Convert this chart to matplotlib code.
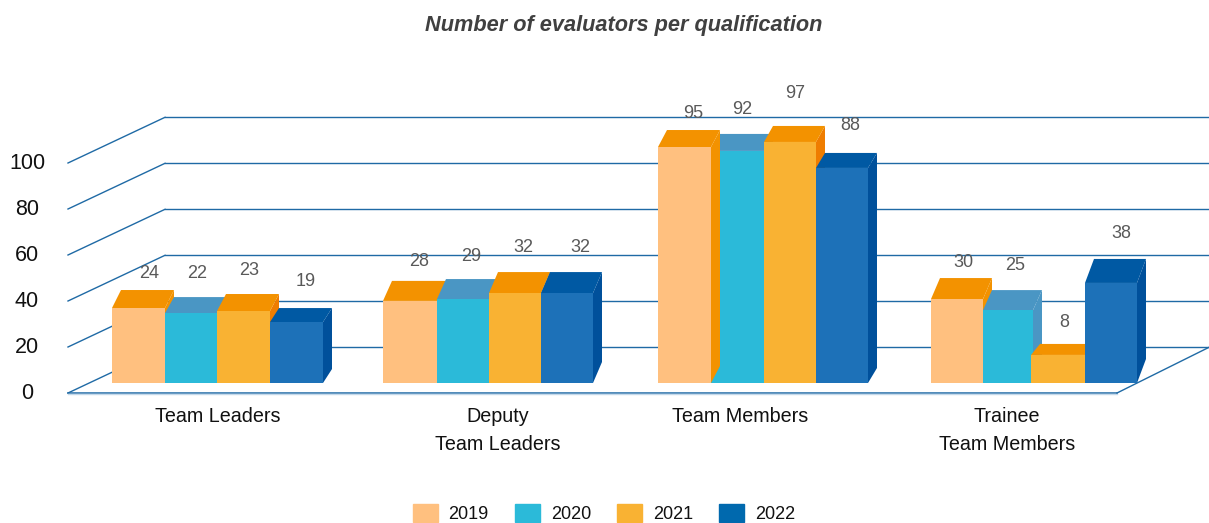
import matplotlib
matplotlib.use("Agg")
import matplotlib.pyplot as plt
from matplotlib.patches import Patch, Polygon

categories = ["Team Leaders", "Deputy\nTeam Leaders", "Team Members", "Trainee\nTeam Members"]
years = ["2019", "2020", "2021", "2022"]
y_ticks = [0, 20, 40, 60, 80, 100]

# printed labels
labels_2019 = [24, 28, 95, 30]
labels_2020 = [22, 29, 92, 25]
labels_2021 = [23, 32, 97, 8]
labels_2022 = [19, 32, 88, 38]

# bar heights as they read against the gridlines (not proportional to the labels)
heights_2019 = [32.6, 35.7, 102.6, 36.5]
heights_2020 = [30.4, 36.5, 100.9, 31.7]
heights_2021 = [31.3, 39.1, 104.8, 12.2]
heights_2022 = [26.5, 39.1, 93.5, 43.5]

labels = [labels_2019, labels_2020, labels_2021, labels_2022]
heights = [heights_2019, heights_2020, heights_2021, heights_2022]

front_colors = ["#FFC07F", "#2BBAD9", "#F9B233", "#1D71B8"]
top_colors = ["#F39200", "#4A96C4", "#F39200", "#0059A3"]
side_colors = ["#F39200", "#4A96C4", "#EF7D00", "#00509B"]
legend_colors = ["#FFC07F", "#2BBAD9", "#F9B233", "#0069AE"]
grid_color = "#1F6AA5"

# layout, in pixels of the 1209x523 picture
W, H = 1209, 523
px_unit = 2.3
zero_px = 393
floor_px = 383
base = (zero_px - floor_px) / px_unit
wall_dx = 97
wall_dy = 45.7 / px_unit
wall_left = 68
wall_right = 1117
edges = [[112, 165, 217, 270, 323],
         [383, 437, 489, 541, 593],
         [658, 711, 764, 816, 868],
         [931, 983, 1033, 1085, 1137]]
lefts = [[112, 165, 217, 270],
         [383, 437, 489, 541],
         [658, 711, 764, 816],
         [931, 983, 1031, 1085]]
depth_x = 9
depth_y = [[18, 16, 17, 14], [20, 20, 21, 21], [17, 17, 16, 15], [21, 20, 11, 24]]
draw_order = [[0, 1, 2, 3], [0, 1, 2, 3], [1, 0, 2, 3], [0, 1, 2, 3]]
label_dx = [[10.5, 6, 5.5, 9.5], [9, 8, 8, 13], [8.5, 4.5, 5, 8], [6, 7, 6, 10]]
label_up = [[35, 40, 41, 41], [39, 43, 46, 46], [34, 41, 48, 42], [37, 45, 32, 49]]
cat_x = [218, 498, 740, 1007]

plt.rcParams["font.family"] = ["Liberation Sans", "DejaVu Sans"]

fig = plt.figure(figsize=(W / 100, H / 100), dpi=100)
ax = fig.add_axes([0, 0, 1, 1])
ax.set_xlim(0, W)
ax.set_ylim((zero_px - H) / px_unit, zero_px / px_unit)
ax.axis("off")

# walls and floor
for t in y_ticks:
    ax.plot([wall_left, wall_left + wall_dx], [t, t + wall_dy], color=grid_color, lw=1, zorder=1)
    ax.plot([wall_left + wall_dx, W], [t + wall_dy, t + wall_dy], color=grid_color, lw=1, zorder=1)
    ax.text(27, t - 0.4, str(t), ha="center", va="center", fontsize=15.5, color="#111111")
ax.plot([wall_left, wall_right], [0, 0], color=grid_color, lw=1.1, zorder=1)
ax.plot([wall_left, wall_right], [-0.5, -0.5], color="#C5D9EA", lw=1, zorder=1)
ax.plot([wall_right, W], [0, wall_dy], color=grid_color, lw=1, zorder=1)

# bars
z = 2
for g in range(len(categories)):
    for s in draw_order[g]:
        x0 = lefts[g][s]
        x1 = edges[g][s + 1]
        h = heights[s][g]
        top = base + h
        dy = depth_y[g][s] / px_unit
        ax.bar(x0, h, width=x1 - x0, bottom=base, align="edge", color=front_colors[s], zorder=z + 0.2)
        ax.add_patch(Polygon([(x1, top), (x1 + depth_x, top + dy), (x1 + depth_x, base + dy), (x1, base)],
                             closed=True, fc=side_colors[s], ec="none", zorder=z))
        ax.add_patch(Polygon([(x0, top), (x0 + depth_x, top + dy), (x1 + depth_x, top + dy), (x1, top)],
                             closed=True, fc=top_colors[s], ec="none", zorder=z + 0.1))
        z += 1
        ax.text((x0 + x1) / 2 + label_dx[g][s], top + label_up[g][s] / px_unit, str(labels[s][g]),
                ha="center", va="center", fontsize=13, color="#595959", zorder=50)

for x, c in zip(cat_x, categories):
    ax.text(x, (zero_px - 407) / px_unit, c, ha="center", va="top", fontsize=14.2, color="#111111",
            linespacing=1.6, zorder=50)

ax.text(623.5, (zero_px - 26) / px_unit, "Number of evaluators per qualification", ha="center", va="center",
        fontsize=15.7, fontweight="bold", fontstyle="italic", color="#404040")

handles = [Patch(color=c, label=y) for c, y in zip(legend_colors, years)]
ax.legend(handles=handles, ncol=4, loc="lower center", bbox_to_anchor=(604 / W, 0.0), frameon=False,
          fontsize=13, handlelength=1.385, handleheight=1.17, handletextpad=0.6, columnspacing=1.45,
          borderpad=0, borderaxespad=0, labelcolor="#111111")

fig.savefig("out.png", dpi=100)
